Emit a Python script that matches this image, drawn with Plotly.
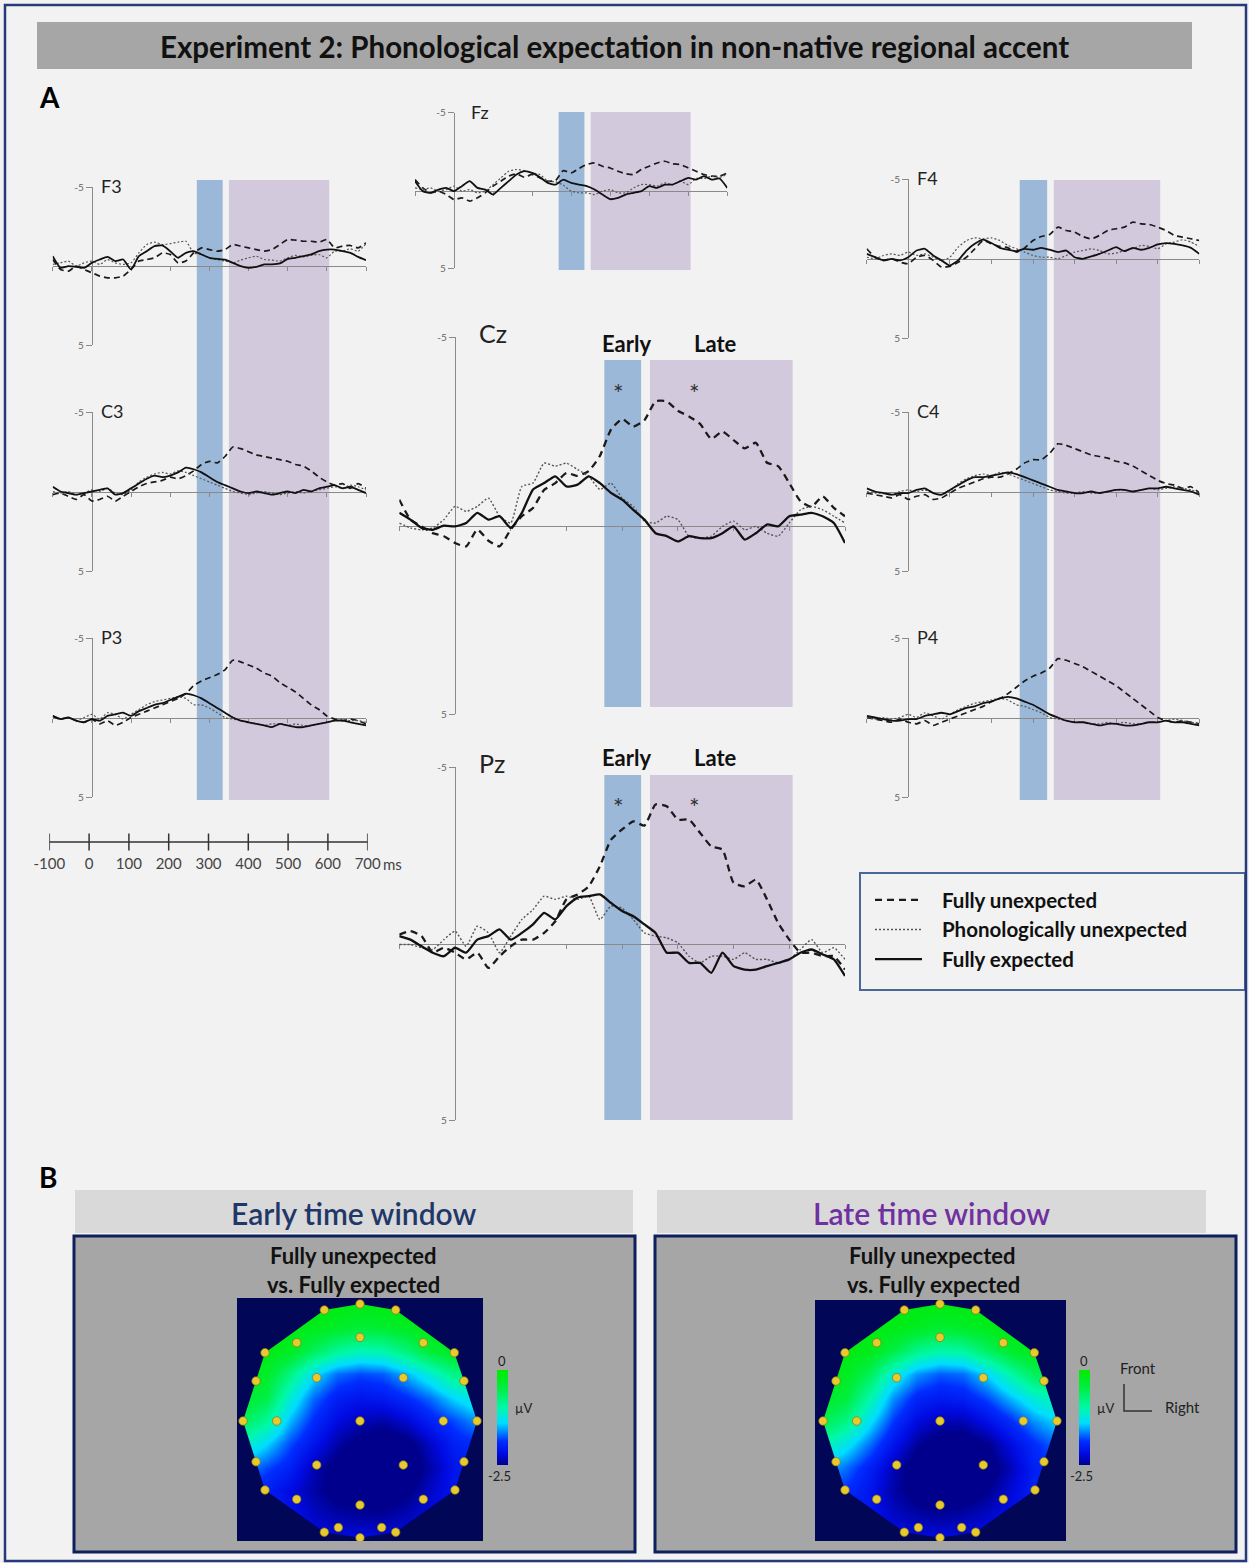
import plotly.graph_objects as go

W, H = 1249, 1563


def px(x):
    return x / W


def py(y):
    return 1 - y / H


FONT = "Lato"

# ---------------------------------------------------------------- data
TIMES = [-100, -80, -60, -40, -20, 0, 20, 40, 60, 80, 100, 120, 140, 160, 180, 200,
         220, 240, 260, 280, 300, 320, 340, 360, 380, 400, 420, 440, 460, 480, 500,
         520, 540, 560, 580, 600, 620, 640, 660, 680, 700]
CONDITIONS = ["Fully unexpected", "Phonologically unexpected", "Fully expected"]
EARLY_WIN = [268, 334]
LATE_WIN = [350, 606]
SCALE_TICKS = [-100, 0, 100, 200, 300, 400, 500, 600, 700]
SCALE_LABELS = ["-100", "0", "100", "200", "300", "400", "500", "600", "700"]

F3_FU = [-0.42, 0.21, 0.32, 0, 0.21, 0.42, 0.63, 0.74, 0.74, 0.63, 0.21,
         -0.32, -0.42, -0.53, -0.84, -0.74, -0.21, -0.32, -0.84, -1.16, -1.05,
         -0.95, -1.05, -1.37, -1.27, -1.16, -1.05, -0.95, -1.05, -1.37, -1.69,
         -1.65, -1.58, -1.58, -1.52, -1.69, -1.16, -1.27, -1.31, -1.16, -1.48]
F3_PU = [-0.11, -0.21, -0.32, 0, -0.21, -0.32, -0.11, -0.42, -0.21, -0.11, -0.21,
         -0.84, -1.37, -1.52, -1.37, -1.43, -1.52, -1.58, -0.84, -0.74, -0.53,
         -0.42, -0.32, -0.21, -0.38, -0.53, -0.63, -0.42, -0.38, -0.32, -0.53,
         -0.68, -0.59, -0.68, -0.74, -0.53, -0.95, -0.95, -1.1, -0.95, -1.43]
F3_FE = [-0.63, 0.11, 0, 0.04, 0.11, -0.21, -0.42, -0.59, -0.32, -0.42, 0.21,
         -0.63, -0.95, -1.27, -1.31, -0.95, -0.53, -0.84, -0.95, -0.74, -0.53,
         -0.46, -0.42, -0.21, 0, 0.11, 0.04, -0.11, -0.11, -0.17, -0.46,
         -0.53, -0.63, -0.74, -0.95, -1.05, -1.05, -0.95, -0.84, -0.59, -0.38]

FZ_FU = [-0.7, -0.17, 0.15, 0.04, 0.26, 0.58, 0.47, 0.68, 0.47, 0.15, -0.28,
         -0.6, -0.92, -1.07, -0.85, -1.03, -0.81, -0.6, -0.64, -1.28, -1.13,
         -1.41, -1.67, -1.77, -1.56, -1.45, -1.24, -1.07, -1.03, -1.35, -1.56,
         -1.77, -1.88, -1.71, -1.67, -1.45, -1.24, -1.03, -0.92, -0.92, -1.13]
FZ_PU = [-0.17, -0.06, -0.17, 0.04, -0.06, -0.28, 0.04, -0.06, 0.15, 0.04, -0.38,
         -0.81, -1.24, -1.35, -1.28, -1.13, -1.03, -0.6, -0.56, -0.34, 0.04,
         0.15, 0.15, 0.26, 0.04, -0.06, 0.15, 0.15, -0.17, -0.38, -0.38,
         -0.28, -0.49, -0.38, -0.6, -0.38, -0.77, -0.77, -0.92, -0.85, -1.03]
FZ_FE = [-0.6, 0.04, 0.15, -0.06, -0.17, 0.04, -0.28, -0.6, -0.17, -0.06, 0.26,
         -0.17, -0.6, -1.03, -1.24, -1.13, -0.85, -0.49, -0.38, -0.7, -0.49,
         -0.38, -0.28, -0.06, 0.26, 0.56, 0.47, 0.26, 0.15, 0.04, -0.28,
         -0.17, -0.38, -0.38, -0.6, -0.81, -0.7, -0.92, -0.7, -0.77, -0.17]

F4_FU = [-0.63, -0.1, 0.1, 0, 0.21, 0.31, -0.1, -0.21, 0.1, 0.52, 0.48,
         0.21, -0.1, -0.63, -1.15, -0.94, -0.78, -0.69, -0.42, -0.69, -1.15,
         -1.4, -1.53, -1.99, -1.78, -1.68, -1.4, -1.26, -1.47, -1.78, -1.89,
         -1.99, -2.31, -2.2, -2.16, -1.99, -1.78, -1.47, -1.36, -1.26, -1.15]
F4_PU = [-0.1, 0, -0.21, -0.31, -0.21, -0.42, -0.21, -0.31, -0.1, 0.1, -0.1,
         -0.73, -1.15, -1.32, -1.26, -1.32, -1.15, -0.84, -0.63, -0.42, -0.21,
         -0.1, -0.1, 0, -0.21, -0.42, -0.52, -0.63, -0.52, -0.31, -0.36,
         -0.52, -0.63, -0.84, -0.78, -0.63, -0.94, -1.05, -1.2, -1.05, -0.78]
F4_FE = [-0.31, -0.1, 0.1, 0, 0.1, -0.1, -0.52, -0.63, -0.21, 0.1, 0.42,
         0.1, -0.52, -0.94, -1.2, -0.99, -0.69, -0.57, -0.48, -0.63, -0.57,
         -0.69, -0.57, -0.42, -0.52, -0.1, 0, -0.15, -0.31, -0.52, -0.73,
         -0.48, -0.69, -0.57, -0.69, -0.9, -0.99, -0.94, -0.84, -0.69, -0.31]

C3_FU = [0.2, 0.1, 0.3, 0.5, 0.2, 0.6, 0.5, 0.3, 0.6, 0.3, 0.0,
         -0.3, -0.5, -0.6, -0.7, -0.9, -0.8, -1.0, -1.3, -1.7, -1.9,
         -1.8, -2.2, -2.8, -2.7, -2.5, -2.3, -2.2, -2.1, -2.0, -1.9,
         -1.7, -1.6, -1.3, -0.9, -0.6, -0.4, -0.5, -0.2, -0.5, -0.2]
C3_PU = [0.0, 0.1, 0.0, 0.2, 0.1, -0.1, 0.0, -0.2, 0.1, 0.2, -0.1,
         -0.6, -0.9, -1.1, -1.2, -1.1, -1.3, -1.2, -1.0, -0.8, -0.6,
         -0.4, -0.2, 0.0, 0.1, 0.2, 0.1, 0.0, 0.1, 0.2, 0.1,
         0.0, 0.1, 0.0, -0.1, -0.2, -0.3, -0.2, -0.4, -0.3, -0.1]
C3_FE = [-0.3, 0.0, 0.1, 0.2, 0.1, 0.0, -0.1, -0.2, 0.2, 0.1, -0.2,
         -0.5, -0.8, -1.0, -0.9, -1.0, -1.2, -1.5, -1.4, -1.2, -0.9,
         -0.6, -0.4, -0.2, 0.0, 0.1, 0.0, 0.1, 0.2, 0.1, 0.0,
         0.1, -0.1, 0.0, -0.2, -0.3, -0.4, -0.2, -0.3, -0.1, 0.1]

CZ_FU = [-0.69, -0.16, 0.02, 0.2, 0.28, 0.46, 0.55, 0.1, 0.4, 0.55, 0.1,
         -0.25, -0.47, -0.95, -1.13, -1.4, -1.32, -1.45, -1.85, -2.55, -2.83,
         -2.63, -2.8, -3.3, -3.3, -3.05, -2.9, -2.7, -2.3, -2.5, -2.27,
         -2.05, -2.2, -1.67, -1.58, -1.13, -0.65, -0.5, -0.78, -0.47, -0.25]
CZ_PU = [-0.07, 0.06, 0.11, 0.06, -0.16, -0.51, -0.38, -0.51, -0.73, -0.25, -0.07,
         -1.04, -1.13, -1.66, -1.58, -1.66, -1.49, -1.31, -0.96, -1.13, -0.73,
         -0.51, -0.12, -0.07, -0.25, -0.16, 0.28, 0.33, 0.28, 0.02, -0.12,
         0.11, 0.02, 0.2, 0.28, -0.07, -0.42, -0.51, -0.42, -0.25, -0.07]
CZ_FE = [-0.34, -0.16, 0.06, 0.11, 0.0, 0.02, -0.07, -0.34, -0.16, -0.25, 0.06,
         -0.34, -0.96, -1.13, -1.31, -1.04, -1.09, -1.31, -1.13, -0.87, -0.69,
         -0.42, -0.16, 0.2, 0.28, 0.42, 0.28, 0.33, 0.33, 0.2, 0.02,
         0.37, 0.2, -0.03, 0.02, -0.25, -0.29, -0.34, -0.25, -0.07, 0.46]

C4_FU = [0.1, 0.2, 0.3, 0.4, 0.2, 0.5, 0.3, 0.2, 0.5, 0.4, 0.1,
         -0.2, -0.4, -0.6, -0.8, -0.9, -0.9, -1.1, -1.4, -1.8, -2.0,
         -2.0, -2.4, -3.0, -2.9, -2.7, -2.5, -2.3, -2.2, -2.1, -1.9,
         -1.8, -1.6, -1.3, -1.0, -0.7, -0.5, -0.4, -0.2, -0.3, 0.1]
C4_PU = [0.0, 0.1, 0.1, 0.2, 0.0, -0.1, 0.0, -0.1, 0.1, 0.2, 0.0,
         -0.5, -0.8, -1.0, -1.1, -1.0, -1.2, -1.1, -0.9, -0.7, -0.5,
         -0.3, -0.1, 0.0, 0.1, 0.1, 0.0, 0.1, 0.1, 0.0, -0.1,
         -0.1, 0.0, -0.1, -0.2, -0.1, -0.2, -0.3, -0.2, -0.1, 0.1]
C4_FE = [-0.2, 0.0, 0.1, 0.2, 0.1, 0.1, -0.1, -0.2, 0.1, 0.2, -0.1,
         -0.4, -0.7, -0.9, -0.9, -1.0, -1.1, -1.2, -1.1, -0.9, -0.7,
         -0.5, -0.3, -0.1, 0.0, 0.1, 0.1, 0.0, 0.1, 0.0, -0.1,
         -0.1, 0.0, -0.1, -0.2, -0.2, -0.3, -0.2, -0.1, 0.0, 0.2]

P3_FU = [-0.1, 0.1, 0.0, 0.2, 0.3, 0.1, 0.4, 0.2, 0.5, 0.3, 0.0,
         -0.2, -0.4, -0.6, -0.8, -1.0, -1.2, -1.5, -2.0, -2.3, -2.5,
         -2.7, -3.0, -3.6, -3.5, -3.3, -3.1, -2.8, -2.6, -2.2, -1.9,
         -1.6, -1.2, -0.8, -0.5, -0.1, 0.1, 0.2, 0.1, 0.2, 0.4]
P3_PU = [0.0, 0.1, 0.0, 0.2, 0.0, -0.2, 0.1, -0.3, -0.2, 0.1, -0.2,
         -0.5, -0.8, -1.0, -1.1, -1.2, -1.3, -1.2, -0.8, -0.8, -0.6,
         -0.3, 0.0, 0.1, 0.2, 0.3, 0.4, 0.5, 0.4, 0.4, 0.5,
         0.4, 0.5, 0.5, 0.4, 0.3, 0.2, 0.1, 0.2, 0.2, 0.3]
P3_FE = [-0.1, 0.1, 0.0, 0.2, 0.3, 0.1, 0.2, -0.1, -0.2, -0.3, -0.1,
         -0.4, -0.6, -0.8, -0.9, -1.1, -1.3, -1.5, -1.4, -1.2, -0.9,
         -0.6, -0.3, 0.0, 0.2, 0.3, 0.4, 0.5, 0.6, 0.4, 0.5,
         0.6, 0.6, 0.5, 0.4, 0.3, 0.2, 0.2, 0.3, 0.4, 0.5]

PZ_FU = [-0.25, -0.35, -0.21, 0.26, 0.12, 0.26, 0.45, 0.26, 0.69, 0.36, 0.08,
         -0.11, -0.11, -0.3, -0.63, -1.25, -1.39, -1.62, -2.19, -2.94, -3.23,
         -3.46, -3.34, -3.94, -3.89, -3.51, -3.51, -3.13, -2.75, -2.66, -1.72,
         -1.62, -1.81, -1.25, -0.58, -0.11, 0.26, 0.26, 0.36, 0.36, 0.74]
PZ_PU = [0.03, 0.03, 0.12, 0.17, -0.11, -0.35, 0.08, -0.49, -0.3, 0.26, -0.21,
         -0.68, -0.96, -1.34, -1.25, -1.34, -1.25, -1.34, -0.68, -1.06, -1.0,
         -0.68, -0.3, -0.21, -0.16, -0.02, 0.36, 0.55, 0.36, 0.36, 0.45,
         0.26, 0.45, 0.45, 0.55, 0.45, 0.17, -0.11, 0.26, 0.12, 0.45]
PZ_FE = [-0.21, -0.11, 0.08, 0.26, 0.36, 0.12, 0.26, -0.11, -0.21, -0.4, -0.11,
         -0.3, -0.54, -0.87, -0.68, -1.06, -1.3, -1.34, -1.39, -1.15, -0.92,
         -0.77, -0.54, -0.3, 0.26, 0.26, 0.55, 0.55, 0.83, 0.26, 0.64,
         0.74, 0.74, 0.64, 0.55, 0.45, 0.26, 0.17, 0.31, 0.45, 0.92]

P4_FU = [0.0, 0.1, 0.2, 0.3, 0.1, 0.3, 0.4, 0.2, 0.5, 0.3, 0.1,
         -0.1, -0.3, -0.5, -0.7, -1.0, -1.2, -1.5, -1.9, -2.3, -2.6,
         -2.8, -3.1, -3.7, -3.6, -3.4, -3.2, -2.9, -2.6, -2.3, -2.0,
         -1.6, -1.2, -0.8, -0.4, 0.0, 0.2, 0.3, 0.2, 0.3, 0.4]
P4_PU = [0.0, 0.1, 0.0, 0.1, 0.0, -0.2, 0.0, -0.3, -0.1, 0.1, -0.2,
         -0.5, -0.7, -0.9, -1.0, -1.1, -1.2, -1.1, -0.8, -0.7, -0.5,
         -0.3, 0.0, 0.1, 0.2, 0.3, 0.3, 0.4, 0.4, 0.3, 0.4,
         0.3, 0.4, 0.4, 0.3, 0.3, 0.2, 0.1, 0.2, 0.3, 0.4]
P4_FE = [-0.1, 0.0, 0.1, 0.2, 0.2, 0.1, 0.1, -0.1, -0.2, -0.3, -0.2,
         -0.4, -0.6, -0.7, -0.9, -1.0, -1.2, -1.3, -1.2, -1.0, -0.8,
         -0.5, -0.2, 0.0, 0.2, 0.3, 0.3, 0.4, 0.5, 0.4, 0.4,
         0.5, 0.5, 0.4, 0.3, 0.3, 0.2, 0.3, 0.3, 0.4, 0.5]

ELECTRODES = ["F3", "Fz", "F4", "C3", "Cz", "C4", "P3", "Pz", "P4"]
ERP = {
    "F3": (F3_FU, F3_PU, F3_FE), "Fz": (FZ_FU, FZ_PU, FZ_FE), "F4": (F4_FU, F4_PU, F4_FE),
    "C3": (C3_FU, C3_PU, C3_FE), "Cz": (CZ_FU, CZ_PU, CZ_FE), "C4": (C4_FU, C4_PU, C4_FE),
    "P3": (P3_FU, P3_PU, P3_FE), "Pz": (PZ_FU, PZ_PU, PZ_FE), "P4": (P4_FU, P4_PU, P4_FE),
}
SIG_T = [294, 429]          # asterisks (ms)
SIG_V = {"Cz": -3.6, "Pz": -3.95}

# topography: electrode montage (normalised head coordinates)
ELEC_X = [0.0, -0.305, 0.305, -0.541, 0.0, 0.541, -0.812, 0.806, -0.37, 0.37,
          -0.889, 0.889, -1.0, -0.712, 0.0, 0.712, 1.0, -0.889, 0.889, -0.37, 0.37,
          -0.812, 0.812, -0.541, 0.0, 0.541, -0.305, -0.185, 0.185, 0.305, 0.0]
ELEC_Y = [1.0, 0.949, 0.949, 0.669, 0.715, 0.669, 0.584, 0.584, 0.37, 0.37,
          0.342, 0.342, 0.0, 0.0, 0.0, 0.0, 0.0, -0.348, -0.348, -0.376, -0.376,
          -0.59, -0.59, -0.669, -0.718, -0.669, -0.95, -0.91, -0.91, -0.95, -0.998]
OUTLINE = [0, 2, 7, 11, 16, 18, 22, 29, 30, 26, 21, 17, 12, 10, 6, 1]  # clockwise

# topography amplitude read on a grid (µV); columns = TOPO_U, rows = TOPO_V
TOPO_U = [-1.0, -0.8, -0.6, -0.4, -0.2, 0.0, 0.2, 0.4, 0.6, 0.8, 1.0]
TOPO_V = [1.0, 0.8, 0.6, 0.4, 0.2, 0.0, -0.2, -0.4, -0.6, -0.8, -1.0]
EARLY_GRID = [
    [-0.1, -0.1, -0.1, -0.1, -0.1, -0.15, -0.1, -0.1, -0.1, -0.1, -0.1],
    [-0.1, -0.1, -0.15, -0.2, -0.3, -0.4, -0.35, -0.25, -0.15, -0.1, -0.1],
    [-0.1, -0.15, -0.25, -0.6, -0.9, -1.05, -1.0, -0.75, -0.4, -0.25, -0.25],
    [-0.2, -0.3, -0.8, -1.35, -1.7, -1.8, -1.75, -1.5, -1.2, -0.8, -0.8],
    [-0.35, -0.5, -1.2, -1.7, -2.0, -2.1, -2.05, -1.9, -1.7, -1.4, -1.2],
    [-0.6, -0.9, -1.5, -1.9, -2.2, -2.35, -2.4, -2.25, -2.0, -1.8, -1.6],
    [-1.1, -1.4, -1.8, -2.1, -2.4, -2.6, -2.7, -2.6, -2.3, -2.0, -1.9],
    [-1.6, -1.8, -2.0, -2.35, -2.6, -2.75, -2.8, -2.7, -2.4, -2.1, -2.0],
    [-1.9, -2.0, -2.2, -2.4, -2.6, -2.65, -2.65, -2.55, -2.3, -2.1, -2.0],
    [-2.0, -2.0, -2.1, -2.3, -2.4, -2.45, -2.45, -2.35, -2.2, -2.1, -2.0],
    [-2.1, -2.1, -2.1, -2.2, -2.2, -2.2, -2.2, -2.2, -2.2, -2.1, -2.1],
]
LATE_GRID = [
    [-0.1, -0.1, -0.1, -0.1, -0.1, -0.1, -0.1, -0.1, -0.1, -0.1, -0.1],
    [-0.1, -0.1, -0.1, -0.15, -0.25, -0.35, -0.3, -0.2, -0.1, -0.1, -0.1],
    [-0.1, -0.1, -0.2, -0.5, -0.85, -1.0, -0.95, -0.65, -0.35, -0.2, -0.2],
    [-0.15, -0.25, -0.6, -1.2, -1.6, -1.75, -1.7, -1.4, -1.0, -0.6, -0.6],
    [-0.3, -0.45, -1.0, -1.6, -1.95, -2.05, -2.0, -1.8, -1.5, -1.2, -1.0],
    [-0.55, -0.8, -1.35, -1.85, -2.2, -2.35, -2.35, -2.15, -1.9, -1.6, -1.4],
    [-1.0, -1.3, -1.7, -2.1, -2.45, -2.65, -2.65, -2.5, -2.2, -1.9, -1.7],
    [-1.5, -1.7, -2.0, -2.35, -2.65, -2.8, -2.8, -2.65, -2.35, -2.0, -1.9],
    [-1.8, -1.9, -2.1, -2.4, -2.6, -2.7, -2.65, -2.5, -2.25, -2.0, -1.9],
    [-1.9, -2.0, -2.1, -2.3, -2.4, -2.45, -2.4, -2.3, -2.15, -2.0, -1.9],
    [-2.0, -2.0, -2.1, -2.15, -2.2, -2.2, -2.2, -2.15, -2.1, -2.0, -2.0],
]

# ---------------------------------------------------------------- layout constants
AXC = "#8a8a8a"
BLUE_BAND = "#9cb8d8"
PURPLE_BAND = "#d3c9dd"
NAVY = "#0d1f5c"
MAPBG = "#020656"
TOPO_SCALE = [[0.0, "rgb(0,0,140)"], [0.12, "rgb(0,10,225)"], [0.25, "rgb(0,45,255)"],
              [0.44, "rgb(0,220,255)"], [0.6, "rgb(0,248,170)"], [0.82, "rgb(0,238,60)"],
              [1.0, "rgb(0,235,0)"]]

# pixel boxes: left/right = -100/700 ms, top/bottom = -5/+5 µV
BOXES = {
    "F3": (52.7, 366.0, 187.3, 345.0), "C3": (52.7, 366.0, 412.0, 571.0), "P3": (52.7, 366.0, 638.0, 797.0),
    "Fz": (415.0, 727.3, 112.7, 268.3), "Cz": (399.3, 845.0, 337.3, 714.0), "Pz": (399.3, 845.0, 767.0, 1120.0),
    "F4": (866.7, 1199.3, 179.3, 338.3), "C4": (866.7, 1199.3, 412.0, 571.0), "P4": (866.7, 1199.3, 638.0, 797.0),
}
LABEL_SHIFT = {"F3": 7, "C3": 7, "P3": 7, "Fz": 15, "F4": 7, "C4": 7, "P4": 7, "Cz": 22, "Pz": 22}
BIG = {"Cz", "Pz"}
BANDS = {"F3": (180, 800), "Fz": (112, 270), "Cz": (360, 707), "Pz": (775, 1120), "F4": (180, 800)}
T_RANGE = [-100, 700]
V_RANGE = [5, -5]
LEGEND_PAD = "\u00a0\u00a0\u00a0"


def axname(i):
    return "" if i == 1 else str(i)


fig = go.Figure()
layout = {}

for i, el in enumerate(ELECTRODES, start=1):
    l, r, t, b = BOXES[el]
    xd = [px(l), px(r)]
    yd = [py(b), py(t)]
    y_zero = yd[0] + (0 - V_RANGE[0]) / (V_RANGE[1] - V_RANGE[0]) * (yd[1] - yd[0])
    x_zero = xd[0] + (0 - T_RANGE[0]) / (T_RANGE[1] - T_RANGE[0]) * (xd[1] - xd[0])
    layout["xaxis" + axname(i)] = dict(
        domain=xd, range=T_RANGE, anchor="free", position=y_zero, showline=True,
        linecolor=AXC, linewidth=1.3, ticks="outside", ticklen=4, tickcolor=AXC, tickwidth=1.2,
        tickvals=SCALE_TICKS, showticklabels=False, showgrid=False, zeroline=False,
        layer="below traces", fixedrange=True)
    layout["yaxis" + axname(i)] = dict(
        domain=yd, range=V_RANGE, anchor="free", position=x_zero, showline=True,
        linecolor=AXC, linewidth=1.3, ticks="outside", ticklen=6, tickcolor=AXC, tickwidth=1.2,
        tickvals=[-5, 5], ticktext=["-5", "5"], tickfont=dict(family=FONT, size=10, color="#666"),
        showgrid=False, zeroline=False, layer="below traces", fixedrange=True)

    big = el in BIG
    styles = [
        dict(color="#1a1a1a", width=2.3 if big else 1.7, dash="7px,5px" if big else "6px,4px"),
        dict(color="#555555", width=1.4 if big else 1.2, dash="2px,2px"),
        dict(color="#111111", width=2.3 if big else 1.8),
    ]
    for k, (name, vals) in enumerate(zip(CONDITIONS, ERP[el])):
        fig.add_trace(go.Scatter(
            x=TIMES, y=vals, mode="lines", name=LEGEND_PAD + name,
            line=dict(shape="spline", smoothing=0.5, **styles[k]),
            showlegend=(el == "Cz"), legendgroup=name, hoverinfo="skip",
            xaxis="x" + axname(i), yaxis="y" + axname(i)))

# scale bar (axis 10)
layout["xaxis10"] = dict(domain=[px(49.3), px(367.7)], range=T_RANGE, anchor="y10", showline=False,
                         ticks="", tickvals=SCALE_TICKS, ticktext=SCALE_LABELS,
                         tickfont=dict(family=FONT, size=15, color="#444"), showgrid=False,
                         zeroline=False, fixedrange=True)
layout["yaxis10"] = dict(domain=[py(853), py(831)], range=[-1, 1], visible=False, fixedrange=True)
fig.add_trace(go.Scatter(x=SCALE_TICKS, y=[0] * len(SCALE_TICKS), mode="lines+markers",
                         line=dict(color="#333", width=1.5),
                         marker=dict(symbol="line-ns-open", size=12, line=dict(color="#333", width=1.5)),
                         showlegend=False, hoverinfo="skip", xaxis="x10", yaxis="y10"))

# topography maps (axes 11, 12)
MAPS = [
    # (axis idx, grid, square l, r, t, b, head centre x, y, colorbar x)
    (11, EARLY_GRID, 237, 483, 1298, 1541, 360, 1421, 497),
    (12, LATE_GRID, 815, 1066, 1300, 1541, 940, 1421, 1079),
]
SCALE_PX = 117.0
for idx, grid, l, r, t, b, cx, cy, cbx in MAPS:
    xr = [(l - cx) / SCALE_PX, (r - cx) / SCALE_PX]
    yr = [(cy - b) / SCALE_PX, (cy - t) / SCALE_PX]
    layout[f"xaxis{idx}"] = dict(domain=[px(l), px(r)], range=xr, visible=False, anchor=f"y{idx}", fixedrange=True)
    layout[f"yaxis{idx}"] = dict(domain=[py(b), py(t)], range=yr, visible=False, anchor=f"x{idx}", fixedrange=True)
    fig.add_trace(go.Heatmap(
        x=TOPO_U, y=TOPO_V[::-1], z=grid[::-1], zsmooth="best", colorscale=TOPO_SCALE,
        zmin=-2.5, zmax=0, hoverinfo="skip", xaxis=f"x{idx}", yaxis=f"y{idx}",
        colorbar=dict(x=px(cbx), xanchor="left", y=py(1417.5), yanchor="middle", len=95,
                      lenmode="pixels", thickness=11, thicknessmode="pixels", showticklabels=False,
                      ticks="", outlinewidth=0, xpad=0, ypad=0)))
    # mask outside the head outline (square clockwise, outline counter-clockwise)
    mx = [0, xr[1], xr[1], xr[0], xr[0], 0]
    my = [yr[1], yr[1], yr[0], yr[0], yr[1], yr[1]]
    ring = [OUTLINE[0]] + OUTLINE[::-1]
    mx += [ELEC_X[j] for j in ring] + [0]
    my += [ELEC_Y[j] for j in ring] + [yr[1]]
    fig.add_trace(go.Scatter(x=mx, y=my, mode="lines", fill="toself", fillcolor=MAPBG,
                             line=dict(width=0, color=MAPBG), showlegend=False, hoverinfo="skip",
                             xaxis=f"x{idx}", yaxis=f"y{idx}"))
    fig.add_trace(go.Scatter(x=ELEC_X, y=ELEC_Y, mode="markers",
                             marker=dict(size=8.5, color="#e6ca2e", line=dict(color="#8c7412", width=0.7)),
                             showlegend=False, hoverinfo="skip", xaxis=f"x{idx}", yaxis=f"y{idx}"))

# ---------------------------------------------------------------- shapes
shapes = []


def rect(x0, y0, x1, y1, fill=None, line=None, lw=0, layer="below"):
    return dict(type="rect", xref="paper", yref="paper", x0=px(x0), x1=px(x1), y0=py(y1), y1=py(y0),
                layer=layer, line=dict(width=lw, color=line or "rgba(0,0,0,0)"),
                fillcolor=fill or "rgba(0,0,0,0)")


shapes.append(rect(37, 22, 1192, 69, fill="#a6a6a6"))
for el, (y0, y1) in BANDS.items():
    i = ELECTRODES.index(el) + 1
    for win, col in ((EARLY_WIN, BLUE_BAND), (LATE_WIN, PURPLE_BAND)):
        shapes.append(dict(type="rect", xref="x" + axname(i), yref="paper", x0=win[0], x1=win[1],
                           y0=py(y1), y1=py(y0), fillcolor=col, line=dict(width=0), layer="below"))
shapes.append(rect(860, 873, 1245, 990, line="#4a6796", lw=2))
shapes.append(rect(75, 1190, 633, 1233, fill="#d9d9d9"))
shapes.append(rect(657, 1190, 1206, 1233, fill="#d9d9d9"))
shapes.append(rect(74, 1236, 635, 1552, fill="#a6a6a6", line=NAVY, lw=3))
shapes.append(rect(655, 1236, 1236, 1552, fill="#a6a6a6", line=NAVY, lw=3))
shapes.append(rect(5, 5, 1246, 1561, line="#27397a", lw=2.5, layer="above"))
shapes.append(dict(type="path", xref="paper", yref="paper",
                   path=f"M {px(1124)},{py(1384)} L {px(1124)},{py(1411)} L {px(1152)},{py(1411)}",
                   line=dict(color="#333", width=1.5)))

# ---------------------------------------------------------------- annotations
ann = []


def text(x, y, s, size, color="#111", weight="normal", xanchor="center", yanchor="middle"):
    ann.append(dict(xref="paper", yref="paper", x=px(x), y=py(y), text=s, showarrow=False,
                    xanchor=xanchor, yanchor=yanchor,
                    font=dict(family=FONT, size=size, color=color, weight=weight)))


text(614, 46, "Experiment 2: Phonological expectation in non-native regional accent", 29.5, weight="bold")
text(37, 97, "A", 28, color="#000", weight="bold", xanchor="left")
text(37, 1177, "B", 28, color="#000", weight="bold", xanchor="left")

for i, el in enumerate(ELECTRODES, start=1):
    big = el in BIG
    ann.append(dict(xref="x" + axname(i), yref="y" + axname(i), x=0, y=-5, text=el, showarrow=False,
                    xanchor="left", yanchor="middle", xshift=LABEL_SHIFT[el], yshift=(4 if big else 1),
                    font=dict(family=FONT, size=25 if big else 18, color="#222")))
    if big:
        for t_sig in SIG_T:
            ann.append(dict(xref="x" + axname(i), yref="y" + axname(i), x=t_sig, y=SIG_V[el], text="*",
                            showarrow=False, yshift=-3, font=dict(family=FONT, size=25, color="#333")))
        ylab = 343 if el == "Cz" else 757
        for win, s, sh in ((EARLY_WIN, "Early", 4), (LATE_WIN, "Late", -6)):
            ann.append(dict(xref="x" + axname(i), yref="paper", x=(win[0] + win[1]) / 2, y=py(ylab),
                            text=s, showarrow=False, xshift=sh, yanchor="middle",
                            font=dict(family=FONT, size=22, color="#111", weight="bold")))

ann.append(dict(xref="x10", yref="paper", x=700, y=py(864), text="ms", showarrow=False, xanchor="left",
                xshift=13, yanchor="middle", font=dict(family=FONT, size=15, color="#444")))

text(354, 1213, "Early time window", 30, color="#1f3868", weight=600)
text(931, 1213, "Late time window", 30, color="#7030a0", weight=600)
for cxp in (353, 932):
    text(cxp, 1255, "Fully unexpected", 22, weight="bold")
    text(cxp + 1, 1284, "vs. Fully expected", 22, weight="bold")
for bx in (502, 1084):
    text(bx, 1361, "0", 13, color="#222")
    text(bx - 3, 1476, "-2.5", 13, color="#222")
    text(bx + 21, 1408, "µV", 13, color="#222")
text(1138, 1368, "Front", 15, color="#222")
text(1182, 1407, "Right", 15, color="#222")

layout.update(dict(
    width=W, height=H, autosize=False,
    margin=dict(l=0, r=0, t=0, b=0, pad=0, autoexpand=False),
    paper_bgcolor="#f2f2f2", plot_bgcolor="rgba(0,0,0,0)",
    shapes=shapes, annotations=ann,
    legend=dict(x=px(870), y=py(880), xanchor="left", yanchor="top", bgcolor="rgba(0,0,0,0)",
                itemwidth=47, tracegroupgap=0,
                font=dict(family=FONT, size=20.5, color="#111", weight="bold")),
    font=dict(family=FONT),
))
fig.update_layout(layout)
fig.write_html("out.html", config={"displayModeBar": False},
               post_script="document.body.style.margin='0';document.body.style.overflow='hidden';")
